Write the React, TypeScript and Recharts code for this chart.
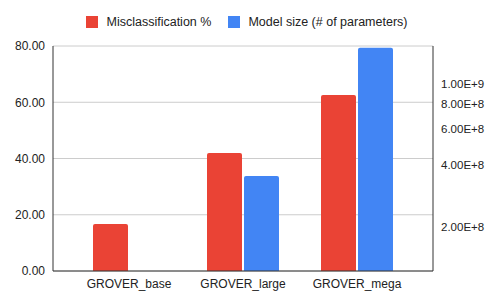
import { BarChart, Bar, XAxis, YAxis, CartesianGrid, Legend } from "recharts";

const models = ["GROVER_base", "GROVER_large", "GROVER_mega"];
const misclassification = [16.7, 42.0, 62.6];
const modelSize = [1.17e8, 3.55e8, 1.5e9];

const leftTicks = [0, 20, 40, 60, 80];
const rightTicks = [2e8, 4e8, 6e8, 8e8, 1e9];

const RED = "#ea4335";
const BLUE = "#4285f4";
const FONT = "'Liberation Sans', Arial, sans-serif";

const data = models.map((name, i) => ({
  name,
  misclassification: misclassification[i],
  size: modelSize[i],
}));

const formatSci = (v: number) => {
  const exp = Math.floor(Math.log10(v) + 1e-9);
  return `${(v / Math.pow(10, exp)).toFixed(2)}E+${exp}`;
};

const LegendContent = () => (
  <div
    style={{
      display: "flex",
      justifyContent: "center",
      alignItems: "center",
      fontFamily: FONT,
      fontSize: 12.5,
      color: "#222",
      height: 20,
    }}
  >
    <span style={{ width: 12, height: 12, background: RED, display: "inline-block", marginRight: 9 }} />
    <span style={{ marginRight: 17 }}>Misclassification %</span>
    <span style={{ width: 12, height: 12, background: BLUE, display: "inline-block", marginRight: 8 }} />
    <span>Model size (# of parameters)</span>
  </div>
);

export default function App() {
  return (
    <div style={{ position: "absolute", left: 0, top: 0, background: "#fff" }}>
      <BarChart
        width={501}
        height={307}
        data={data}
        margin={{ top: 12, right: 8, bottom: 0, left: 0 }}
        barGap={2}
        barCategoryGap={21}
      >
        <Legend verticalAlign="top" height={34} content={<LegendContent />} />
        <CartesianGrid yAxisId="left" vertical={false} stroke="#cccccc" />
        <XAxis
          dataKey="name"
          padding={{ left: 19, right: 19 }}
          tickLine={false}
          axisLine={{ stroke: "#333" }}
          tick={{ fill: "#222", fontSize: 12, fontFamily: FONT }}
          height={36}
        />
        <YAxis
          yAxisId="left"
          domain={[0, 80]}
          ticks={leftTicks}
          tickFormatter={(v: number) => v.toFixed(2)}
          tickLine={false}
          axisLine={{ stroke: "#333" }}
          tick={{ fill: "#222", fontSize: 12, fontFamily: FONT }}
          width={53}
        />
        <YAxis
          yAxisId="right"
          orientation="right"
          scale="log"
          domain={[1.22e8, 1.53e9]}
          allowDataOverflow
          ticks={rightTicks}
          interval={0}
          tickFormatter={formatSci}
          tickLine={false}
          axisLine={{ stroke: "#333" }}
          tick={{ fill: "#222", fontSize: 11.5, fontFamily: FONT }}
          width={60}
        />
        <Bar
          yAxisId="left"
          dataKey="misclassification"
          fill={RED}
          radius={[2, 2, 0, 0]}
          isAnimationActive={false}
        />
        <Bar
          yAxisId="right"
          dataKey="size"
          fill={BLUE}
          radius={[2, 2, 0, 0]}
          isAnimationActive={false}
        />
      </BarChart>
    </div>
  );
}
